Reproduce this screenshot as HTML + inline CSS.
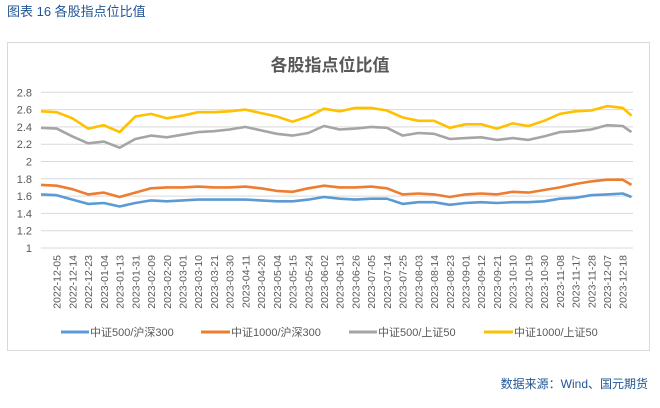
<!DOCTYPE html>
<html><head><meta charset="utf-8"><style>
body{margin:0;background:#fff;width:660px;height:403px;overflow:hidden;font-family:"Liberation Sans","Noto Sans CJK SC",sans-serif}
</style></head><body>
<svg width="660" height="403" viewBox="0 0 660 403">
<text x="7" y="16" font-size="13" fill="#1f5596" font-family="Liberation Sans,Noto Sans CJK SC,sans-serif">图表 16  各股指点位比值</text>
<rect x="7.5" y="42.5" width="642" height="308" fill="#fff" stroke="#d9d9d9"/>
<text x="330" y="71" text-anchor="middle" font-size="17" font-weight="bold" fill="#595959">各股指点位比值</text>
<g id="grid"></g>
<g id="yticks"></g>
<g id="xticks"></g>
<g id="series"></g>
<g font-size="11" fill="#595959">
<g><line x1="61" y1="332" x2="89" y2="332" stroke="#5b9bd5" stroke-width="3"/><text x="90" y="336">中证500/沪深300</text></g>
<g><line x1="201" y1="332" x2="230" y2="332" stroke="#ed7d31" stroke-width="3"/><text x="231" y="336">中证1000/沪深300</text></g>
<g><line x1="349" y1="332" x2="377" y2="332" stroke="#a5a5a5" stroke-width="3"/><text x="378" y="336">中证500/上证50</text></g
><g><line x1="484" y1="332" x2="513" y2="332" stroke="#ffc000" stroke-width="3"/><text x="514" y="336">中证1000/上证50</text></g>
</g>
<text x="648" y="388" text-anchor="end" font-size="12" fill="#1f5596">数据来源：Wind、国元期货</text>
</svg>
<script>
const labels=["2022-12-05","2022-12-14","2022-12-23","2023-01-04","2023-01-13","2023-01-31","2023-02-09","2023-02-20","2023-03-01","2023-03-10","2023-03-21","2023-03-30","2023-04-11","2023-04-20","2023-05-04","2023-05-15","2023-05-24","2023-06-02","2023-06-13","2023-06-26","2023-07-05","2023-07-14","2023-07-25","2023-08-03","2023-08-14","2023-08-23","2023-09-01","2023-09-12","2023-09-21","2023-10-10","2023-10-19","2023-10-30","2023-11-08","2023-11-17","2023-11-28","2023-12-07","2023-12-18"];
const yTicks=[1,1.2,1.4,1.6,1.8,2,2.2,2.4,2.6,2.8];
// points: start (12-01), each label date, end (12-22)
const blue=[1.62,1.61,1.56,1.51,1.52,1.48,1.52,1.55,1.54,1.55,1.56,1.56,1.56,1.56,1.55,1.54,1.54,1.56,1.59,1.57,1.56,1.57,1.57,1.51,1.53,1.53,1.50,1.52,1.53,1.52,1.53,1.53,1.54,1.57,1.58,1.61,1.62,1.63,1.59];
const orange=[1.73,1.72,1.68,1.62,1.64,1.59,1.64,1.69,1.70,1.70,1.71,1.70,1.70,1.71,1.69,1.66,1.65,1.69,1.72,1.70,1.70,1.71,1.69,1.62,1.63,1.62,1.59,1.62,1.63,1.62,1.65,1.64,1.67,1.70,1.74,1.77,1.79,1.79,1.73];
const gray=[2.39,2.38,2.29,2.21,2.23,2.16,2.26,2.30,2.28,2.31,2.34,2.35,2.37,2.40,2.36,2.32,2.30,2.33,2.41,2.37,2.38,2.40,2.39,2.30,2.33,2.32,2.26,2.27,2.28,2.25,2.27,2.25,2.29,2.34,2.35,2.37,2.42,2.41,2.34];
const yellow=[2.58,2.57,2.50,2.38,2.42,2.34,2.52,2.55,2.50,2.53,2.57,2.57,2.58,2.60,2.56,2.52,2.46,2.52,2.61,2.58,2.62,2.62,2.59,2.51,2.47,2.47,2.39,2.43,2.43,2.38,2.44,2.41,2.47,2.55,2.58,2.59,2.64,2.62,2.53];
const NS="http://www.w3.org/2000/svg";
const x0=41,x1=633,yB=248,yT=92.3;
const fl=56.7,ll=622.7,step=(ll-fl)/(labels.length-1);
function yS(v){return yB-(v-1)/(2.8-1)*(yB-yT);}
function xIdx(i){ // i: point index; 0=start, last=end
  if(i===0) return x0;
  if(i===labels.length+1) return 631.5;
  return fl+(i-1)*step;}
const grid=document.getElementById('grid'),yt=document.getElementById('yticks'),xt=document.getElementById('xticks');
yTicks.forEach(v=>{
  const l=document.createElementNS(NS,'line');
  l.setAttribute('x1',x0);l.setAttribute('x2',x1);l.setAttribute('y1',yS(v));l.setAttribute('y2',yS(v));
  l.setAttribute('stroke','#d9d9d9');l.setAttribute('stroke-width','1');
  
  
  grid.appendChild(l);
  const t=document.createElementNS(NS,'text');
  t.setAttribute('x',32);t.setAttribute('y',yS(v)+4);t.setAttribute('text-anchor','end');
  t.setAttribute('font-size','11');t.setAttribute('fill','#595959');t.textContent=String(v);
  
  
  yt.appendChild(t);
});
labels.forEach((s,i)=>{
  const x=fl+i*step;
  const t=document.createElementNS(NS,'text');
  t.setAttribute('transform','translate('+(x+4)+',255) rotate(-90)');
  t.setAttribute('text-anchor','end');t.setAttribute('font-size','10.5');t.setAttribute('fill','#595959');
  t.textContent=s;
  
  
  xt.appendChild(t);
});
const ser=document.getElementById('series');
[[blue,'#5b9bd5','line-zz500-hs300'],[orange,'#ed7d31','line-zz1000-hs300'],[gray,'#a5a5a5','line-zz500-sz50'],[yellow,'#ffc000','line-zz1000-sz50']].forEach(([d,c,n])=>{
  const p=document.createElementNS(NS,'polyline');
  p.setAttribute('points',d.map((v,i)=>xIdx(i).toFixed(1)+','+yS(v).toFixed(1)).join(' '));
  p.setAttribute('fill','none');p.setAttribute('stroke',c);p.setAttribute('stroke-width','2.6');p.setAttribute('stroke-linejoin','round');
  
  
  ser.appendChild(p);
});
</script>
</body></html>
